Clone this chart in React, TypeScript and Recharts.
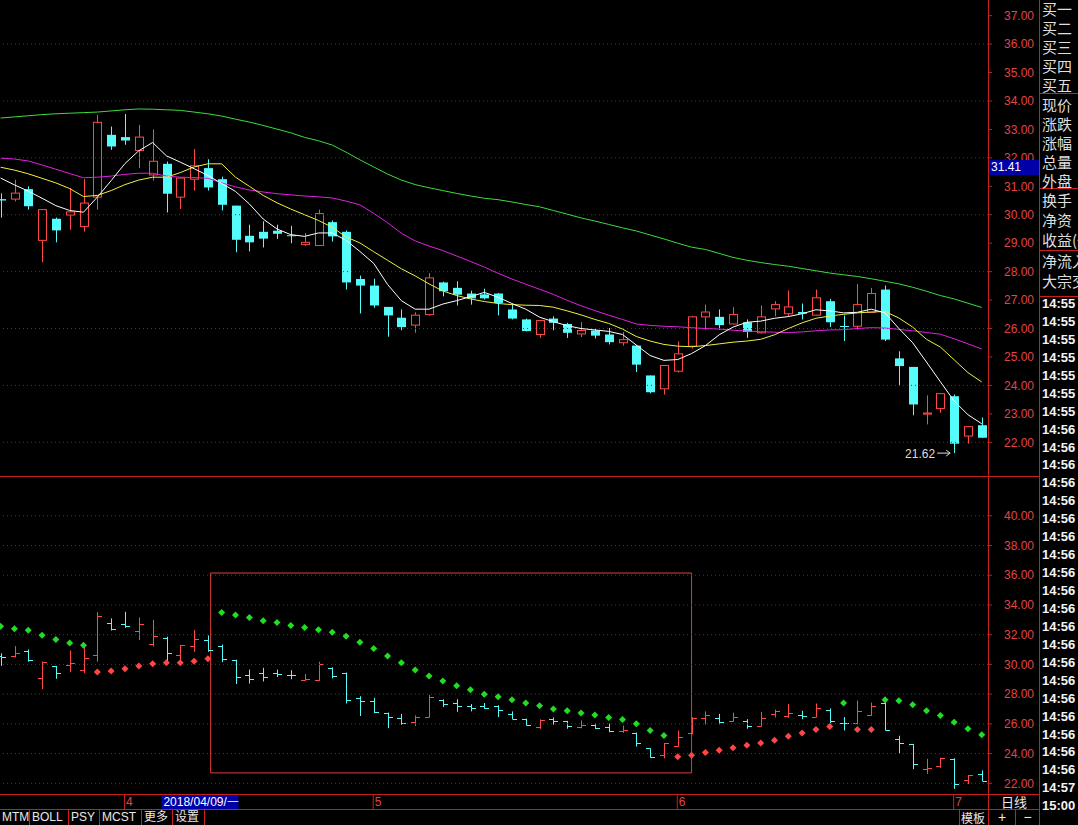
import React from 'react';
import {
  ComposedChart, Bar, Line, Scatter, XAxis, YAxis,
  ReferenceLine, ReferenceArea, ReferenceDot,
} from 'recharts';

// daily candles, 2018/03/20 .. 2018/07/04
const opens = [
  30.55, 30.55, 30.90, 29.10, 29.86, 29.99, 29.59, 30.62, 32.81, 32.73,
  32.26, 31.40, 31.79, 30.62, 31.25, 31.64, 31.25, 30.32, 29.26, 29.40,
  29.44, 29.28, 28.95, 28.92, 29.74, 29.40, 27.74, 27.51, 26.76, 26.38,
  26.12, 26.49, 27.62, 27.43, 27.23, 27.20, 27.23, 26.67, 26.32, 25.79,
  26.35, 26.16, 25.81, 25.93, 25.79, 25.50, 25.40, 24.35, 23.88, 24.50,
  25.38, 26.41, 26.41, 26.16, 26.22, 25.85, 26.69, 26.52, 26.58, 26.47,
  26.96, 26.09, 26.08, 26.57, 27.37, 24.95, 24.65, 22.99, 23.19, 23.62,
  22.22, 22.60,
];
const highs = [
  30.75, 31.23, 31.00, 30.20, 29.90, 30.94, 31.25, 33.51, 33.10, 33.54,
  33.16, 33.00, 31.87, 31.30, 32.31, 31.95, 31.34, 30.32, 29.65, 29.77,
  29.65, 29.61, 29.36, 30.18, 29.80, 29.45, 27.86, 27.75, 26.76, 26.67,
  26.57, 27.95, 27.65, 27.66, 27.33, 27.40, 27.25, 26.84, 26.35, 26.30,
  26.43, 26.20, 26.23, 26.02, 26.02, 25.88, 25.42, 24.35, 24.72, 25.55,
  26.45, 26.84, 26.67, 26.75, 26.32, 26.81, 26.96, 27.34, 26.88, 27.37,
  27.04, 26.46, 27.57, 27.43, 27.51, 25.20, 24.65, 23.65, 23.72, 23.68,
  22.56, 22.87,
];
const lows = [
  29.90, 30.47, 30.18, 28.33, 29.03, 29.47, 29.41, 30.18, 32.28, 32.46,
  31.64, 31.20, 30.08, 30.20, 30.85, 30.85, 30.15, 28.68, 28.71, 28.85,
  29.15, 29.00, 28.91, 28.90, 29.06, 27.37, 26.53, 26.73, 25.71, 25.94,
  25.85, 26.45, 27.13, 26.81, 26.84, 27.02, 26.46, 26.32, 25.90, 25.67,
  25.94, 25.67, 25.70, 25.65, 25.44, 25.40, 24.47, 23.72, 23.68, 24.45,
  25.30, 25.96, 25.96, 26.14, 25.67, 25.82, 26.43, 26.41, 26.32, 26.45,
  26.05, 25.56, 25.96, 26.55, 25.56, 23.98, 22.95, 22.63, 23.04, 21.62,
  21.95, 22.15,
];
const closes = [
  30.50, 30.76, 30.30, 30.18, 29.45, 30.10, 30.41, 33.25, 32.40, 32.61,
  32.73, 31.88, 30.74, 31.29, 31.72, 30.96, 30.35, 29.12, 29.03, 29.16,
  29.33, 29.26, 29.03, 30.04, 29.24, 27.62, 27.51, 26.81, 26.46, 26.05,
  26.47, 27.78, 27.31, 27.19, 27.06, 27.06, 26.90, 26.35, 25.91, 26.28,
  26.20, 25.85, 25.93, 25.75, 25.52, 25.61, 24.73, 23.76, 24.70, 25.11,
  26.41, 26.58, 26.12, 26.49, 25.88, 26.41, 26.84, 26.76, 26.52, 27.08,
  26.22, 26.07, 26.84, 27.23, 25.61, 24.68, 23.33, 23.03, 23.71, 21.95,
  22.55, 22.16,
];

// moving averages
const ma5 = [
  31.29, 31.05, 30.83, 30.58, 30.32, 30.15, 30.09, 30.62, 31.20, 31.80,
  32.25, 32.54, 32.07, 31.85, 31.62, 31.38, 31.10, 30.82, 30.38, 29.85,
  29.50, 29.30, 29.24, 29.36, 29.36, 29.10, 28.71, 28.29, 27.55, 26.98,
  26.68, 26.68, 26.86, 26.98, 27.12, 27.27, 27.10, 26.88, 26.68, 26.40,
  26.24, 26.10, 26.00, 25.95, 25.90, 25.79, 25.42, 25.05, 24.88, 24.91,
  25.12, 25.40, 25.78, 26.05, 26.22, 26.26, 26.36, 26.42, 26.52, 26.66,
  26.62, 26.55, 26.57, 26.68, 26.55, 26.00, 25.50, 24.82, 24.13, 23.45,
  22.97, 22.65,
];
const ma10 = [
  31.67, 31.57, 31.44, 31.28, 31.12, 30.92, 30.64, 30.68, 30.85, 31.06,
  31.22, 31.32, 31.32, 31.48, 31.68, 31.79, 31.79, 31.32, 31.00, 30.68,
  30.42, 30.20, 30.00, 29.80, 29.56, 29.22, 29.01, 28.70, 28.40, 28.10,
  27.85, 27.57, 27.32, 27.16, 27.04, 26.95, 26.88, 26.84, 26.82, 26.81,
  26.75, 26.62, 26.48, 26.32, 26.18, 25.98, 25.72, 25.56, 25.44, 25.38,
  25.36, 25.40, 25.46, 25.52, 25.56, 25.62, 25.78, 26.00, 26.20, 26.36,
  26.44, 26.50, 26.55, 26.58, 26.60, 26.37, 26.05, 25.62, 25.35, 24.90,
  24.45, 24.12,
];
const ma20 = [
  31.99, 31.96, 31.89, 31.75, 31.60, 31.45, 31.30, 31.32, 31.36, 31.42,
  31.46, 31.46, 31.36, 31.32, 31.31, 31.28, 31.12, 30.98, 30.87, 30.80,
  30.74, 30.70, 30.66, 30.63, 30.59, 30.48, 30.35, 30.05, 29.72, 29.35,
  29.08, 28.90, 28.74, 28.55, 28.36, 28.16, 27.94, 27.74, 27.56, 27.38,
  27.20, 26.99, 26.80, 26.63, 26.47, 26.32, 26.16, 26.11, 26.08, 26.06,
  26.03, 26.00, 25.98, 25.94, 25.91, 25.89, 25.87, 25.86, 25.88, 25.92,
  25.95, 25.96, 26.00, 26.03, 26.02, 25.97, 25.92, 25.86, 25.80, 25.64,
  25.46, 25.28,
];
const ma60 = [
  33.40, 33.44, 33.48, 33.52, 33.55, 33.57, 33.59, 33.61, 33.65, 33.69,
  33.72, 33.71, 33.69, 33.67, 33.61, 33.55, 33.47, 33.36, 33.26, 33.14,
  33.01, 32.88, 32.72, 32.60, 32.45, 32.20, 31.93, 31.68, 31.43, 31.22,
  31.06, 30.95, 30.85, 30.75, 30.66, 30.58, 30.53, 30.45, 30.36, 30.28,
  30.15, 30.02, 29.89, 29.78, 29.66, 29.54, 29.43, 29.29, 29.15, 29.00,
  28.86, 28.78, 28.64, 28.50, 28.40, 28.32, 28.25, 28.19, 28.11, 28.03,
  27.95, 27.89, 27.83, 27.75, 27.66, 27.57, 27.45, 27.31, 27.16, 27.04,
  26.89, 26.74,
];

// parabolic SAR (lower panel)
const sar = [
  32.56, 32.40, 32.29, 31.96, 31.67, 31.44, 31.29, 29.49, 29.56, 29.71,
  29.89, 30.04, 30.11, 30.11, 30.22, 30.38, 33.49, 33.33, 33.16, 32.93,
  32.82, 32.62, 32.49, 32.33, 32.16, 31.89, 31.49, 31.07, 30.56, 30.11,
  29.62, 29.22, 28.89, 28.56, 28.29, 28.00, 27.82, 27.62, 27.40, 27.22,
  27.00, 26.89, 26.73, 26.60, 26.42, 26.29, 26.00, 25.55, 25.22, 23.78,
  23.89, 24.07, 24.22, 24.40, 24.56, 24.71, 24.89, 25.16, 25.38, 25.62,
  25.82, 27.40, 25.62, 25.62, 27.62, 27.56, 27.29, 26.89, 26.56, 26.11,
  25.67, 25.27,
];

const priceTicks = [22, 23, 24, 25, 26, 27, 28, 29, 30, 31, 32, 33, 34, 35, 36, 37];
const priceGrid = [22, 24, 26, 28, 30, 32, 34, 36];
const sarTicks = [22, 24, 26, 28, 30, 32, 34, 36, 38, 40];
const monthTicks = [9, 27, 49, 69];
const monthLabels = ['4', '5', '6', '7'];
const cursorIndex = 12;
const cursorDate = '2018/04/09/一';
const cursorPrice = '31.41';
const lowMark = { index: 69, price: 21.62 };
const boxArea = { from: 15.2, to: 50, bottom: 22.7, top: 36.15 };

const quoteGroups = [
  ['买一', '买二', '买三', '买四', '买五'],
  ['现价', '涨跌', '涨幅', '总量', '外盘'],
  ['换手', '净资', '收益(一)'],
  ['净流入', '大宗交易'],
];
const tradeTimes = [
  '14:55', '14:55', '14:55', '14:55', '14:55', '14:55', '14:55',
  '14:56', '14:56', '14:56', '14:56', '14:56', '14:56', '14:56', '14:56', '14:56', '14:56',
  '14:56', '14:56', '14:56', '14:56', '14:56', '14:56', '14:56', '14:56', '14:56', '14:56',
  '14:57', '15:00',
];
const tabs = ['MTM', 'BOLL', 'PSY', 'MCST', '更多', '设置'];

const rows = opens.map((open, i) => ({
  i,
  open,
  high: highs[i],
  low: lows[i],
  close: closes[i],
  range: [lows[i], highs[i]],
  ma5: ma5[i],
  ma10: ma10[i],
  ma20: ma20[i],
  ma60: ma60[i],
  sar: sar[i],
}));
const sarBelow = rows.filter((r) => r.sar < r.close);
const sarAbove = rows.filter((r) => r.sar >= r.close);

const X_DOMAIN: [number, number] = [-0.043, 71.45];
const BORDER = '#c81e1e';
const GRID = '#8a1f1f';
const AXIS_TEXT = '#e04444';
const UP = '#ff4848';
const DOWN = '#54fcfc';
const NUM_FONT = 'Liberation Sans, Arial, sans-serif';
const CJK_FONT = "'Noto Sans CJK SC', sans-serif";

// maps a value inside [low, high] to a pixel, using the bar the scale produced
function pixelMap(props: any) {
  const { y, height, payload } = props;
  const top = Math.min(y, y + height);
  const bottom = Math.max(y, y + height);
  const span = payload.high - payload.low;
  return {
    top,
    bottom,
    py: (v: number) => (span > 0 ? bottom - ((v - payload.low) / span) * (bottom - top) : top),
  };
}

function Candle(props: any) {
  const { x, width, payload } = props;
  if (x == null || !payload) return null;
  const { top, bottom, py } = pixelMap(props);
  const cx = Math.round(x + width / 2);
  const lx = cx + 0.5;
  const yo = py(payload.open);
  const yc = py(payload.close);
  const bTop = Math.min(yo, yc);
  const bBot = Math.max(yo, yc);
  if (payload.close > payload.open) {
    return (
      <g>
        <line x1={lx} x2={lx} y1={top} y2={bTop} stroke={UP} />
        <line x1={lx} x2={lx} y1={bBot} y2={bottom} stroke={UP} />
        <rect x={cx - 3.5} y={bTop} width={8} height={Math.max(bBot - bTop, 1)} fill="#000" stroke={UP} />
      </g>
    );
  }
  return (
    <g>
      <line x1={lx} x2={lx} y1={top} y2={bottom} stroke={DOWN} />
      <rect x={cx - 4} y={bTop} width={9} height={Math.max(bBot - bTop, 1)} fill={DOWN} />
    </g>
  );
}

function OhlcBar(props: any) {
  const { x, width, payload } = props;
  if (x == null || !payload) return null;
  const { top, bottom, py } = pixelMap(props);
  const cx = Math.round(x + width / 2);
  const lx = cx + 0.5;
  const yo = Math.round(py(payload.open)) + 0.5;
  const yc = Math.round(py(payload.close)) + 0.5;
  const color = payload.close > payload.open ? UP : DOWN;
  return (
    <g stroke={color}>
      <line x1={lx} x2={lx} y1={top} y2={bottom} />
      <line x1={cx - 4} x2={lx} y1={yo} y2={yo} />
      <line x1={lx} x2={cx + 5} y1={yc} y2={yc} />
    </g>
  );
}

function Diamond(color: string) {
  return (props: any) => {
    const { cx, cy } = props;
    if (cx == null || cy == null) return null;
    return (
      <polygon
        points={`${cx},${cy - 3.5} ${cx + 3.5},${cy} ${cx},${cy + 3.5} ${cx - 3.5},${cy}`}
        fill={color}
      />
    );
  };
}

function LowLabel(props: any) {
  const { cx, cy } = props;
  if (cx == null || cy == null) return null;
  return (
    <g>
      <text x={cx - 19} y={cy + 5} textAnchor="end" fill="#dcdcdc" fontSize={12} fontFamily={NUM_FONT}>
        {lowMark.price.toFixed(2)}
      </text>
      <line x1={cx - 17} x2={cx - 4} y1={cy} y2={cy} stroke="#dcdcdc" />
      <polyline points={`${cx - 8},${cy - 3} ${cx - 4},${cy} ${cx - 8},${cy + 3}`} fill="none" stroke="#dcdcdc" />
    </g>
  );
}

function DateTick(props: any) {
  const { x, y, payload } = props;
  const v = payload.value;
  if (v === cursorIndex) {
    return (
      <g>
        <rect x={x - 5} y={y + 1} width={77} height={14} fill="#0000a8" />
        <text x={x - 3} y={y + 12} fill="#fff" fontSize={12} fontFamily={NUM_FONT}>{cursorDate}</text>
      </g>
    );
  }
  const k = monthTicks.indexOf(v);
  return (
    <g>
      <line x1={x - 0.5} x2={x - 0.5} y1={y} y2={y + 15} stroke={BORDER} />
      <text x={x + 1} y={y + 12} fill={AXIS_TEXT} fontSize={12} fontFamily={NUM_FONT}>{monthLabels[k]}</text>
    </g>
  );
}

const yTick = { fill: AXIS_TEXT, fontSize: 12, fontFamily: NUM_FONT };

function hLine(left: number, top: number, width: number) {
  return <div style={{ position: 'absolute', left, top, width, height: 1, background: BORDER }} />;
}
function vLine(left: number, top: number, height: number) {
  return <div style={{ position: 'absolute', left, top, width: 1, height, background: BORDER }} />;
}

const groupTops = [-1, 94.5, 190, 251];
const groupLine = [19, 19, 20, 20];
const tabWidths = [30, 39, 31, 42, 31, 32];

export default function App() {
  return (
    <div
      style={{
        position: 'absolute', left: 0, top: 0, width: 1078, height: 825,
        background: '#000', overflow: 'hidden', fontFamily: NUM_FONT,
      }}
    >
      {/* price panel */}
      <div style={{ position: 'absolute', left: 0, top: 0 }}>
        <ComposedChart width={1040} height={477} data={rows} margin={{ top: 0, right: 0, bottom: 0, left: 0 }}>
          <XAxis type="number" dataKey="i" domain={X_DOMAIN} allowDataOverflow hide />
          <YAxis
            orientation="right" width={52} domain={[20.78, 37.55]} allowDataOverflow
            ticks={priceTicks} interval={0} axisLine={false}
            tickLine={{ stroke: BORDER }} tickSize={4} tickMargin={12}
            tick={yTick} tickFormatter={(v: number) => v.toFixed(2)}
          />
          {priceGrid.map((v) => (
            <ReferenceLine key={v} y={v} stroke={GRID} strokeDasharray="1 3" />
          ))}
          <Bar dataKey="range" barSize={10} isAnimationActive={false} shape={(p: any) => <Candle {...p} />} />
          <Line dataKey="ma60" stroke="#3cdc3c" strokeWidth={1} dot={false} activeDot={false} type="linear" isAnimationActive={false} />
          <Line dataKey="ma20" stroke="#e020e0" strokeWidth={1} dot={false} activeDot={false} type="linear" isAnimationActive={false} />
          <Line dataKey="ma10" stroke="#f0f040" strokeWidth={1} dot={false} activeDot={false} type="linear" isAnimationActive={false} />
          <Line dataKey="ma5" stroke="#ffffff" strokeWidth={1} dot={false} activeDot={false} type="linear" isAnimationActive={false} />
          <ReferenceDot x={lowMark.index} y={lowMark.price} shape={(p: any) => <LowLabel {...p} />} />
        </ComposedChart>
      </div>

      {/* SAR panel with date axis */}
      <div style={{ position: 'absolute', left: 0, top: 477 }}>
        <ComposedChart width={1040} height={332} data={rows} margin={{ top: 0, right: 0, bottom: 0, left: 0 }}>
          <XAxis
            type="number" dataKey="i" domain={X_DOMAIN} allowDataOverflow height={15}
            ticks={[...monthTicks, cursorIndex]} interval={0} axisLine={false}
            tickLine={false} tickSize={0} tickMargin={0} tick={(p: any) => <DateTick {...p} />}
          />
          <YAxis
            orientation="right" width={52} domain={[21.28, 42.61]} allowDataOverflow
            ticks={sarTicks} interval={0} axisLine={false}
            tickLine={{ stroke: BORDER }} tickSize={4} tickMargin={12}
            tick={yTick} tickFormatter={(v: number) => v.toFixed(2)}
          />
          {sarTicks.map((v) => (
            <ReferenceLine key={v} y={v} stroke={GRID} strokeDasharray="1 3" />
          ))}
          <Bar dataKey="range" barSize={10} isAnimationActive={false} shape={(p: any) => <OhlcBar {...p} />} />
          <Scatter data={sarAbove} dataKey="sar" isAnimationActive={false} shape={Diamond('#22dd22')} activeShape={Diamond('#22dd22')} />
          <Scatter data={sarBelow} dataKey="sar" isAnimationActive={false} shape={Diamond('#ff4646')} activeShape={Diamond('#ff4646')} />
          <ReferenceArea
            x1={boxArea.from} x2={boxArea.to} y1={boxArea.bottom} y2={boxArea.top}
            fill="none" fillOpacity={0} stroke="#e03c3c" strokeWidth={1} ifOverflow="visible"
          />
        </ComposedChart>
      </div>

      {/* frame lines */}
      {vLine(988, 0, 825)}
      {vLine(1039, 0, 825)}
      {hLine(0, 476, 1040)}
      {hLine(0, 794, 1040)}
      {hLine(0, 809, 1040)}
      {vLine(959, 809, 16)}
      {vLine(1015, 809, 16)}
      {hLine(1040, 93, 38)}
      {hLine(1040, 188, 38)}
      {hLine(1040, 250, 38)}
      {hLine(1040, 296, 38)}

      {/* cursor price */}
      <div
        style={{
          position: 'absolute', left: 989, top: 160, width: 50, height: 15, background: '#0000a8',
          color: '#fff', fontSize: 12, lineHeight: '15px', paddingLeft: 2, boxSizing: 'border-box',
        }}
      >
        {cursorPrice}
      </div>

      {/* quote labels */}
      {quoteGroups.map((g, gi) => (
        <div
          key={gi}
          style={{
            position: 'absolute', left: 1042, top: groupTops[gi], width: 36, overflow: 'hidden',
            color: '#dedede', fontFamily: CJK_FONT, fontSize: 15, lineHeight: `${groupLine[gi]}px`,
            whiteSpace: 'nowrap',
          }}
        >
          {g.map((t, k) => <div key={k}>{t}</div>)}
        </div>
      ))}

      {/* trade times */}
      <div
        style={{
          position: 'absolute', left: 1042, top: 295, width: 36, overflow: 'hidden',
          color: '#f4f4f4', fontSize: 13, fontWeight: 'bold', lineHeight: '17.93px', whiteSpace: 'nowrap',
        }}
      >
        {tradeTimes.map((t, k) => <div key={k}>{t}</div>)}
      </div>

      {/* period cell */}
      <div
        style={{
          position: 'absolute', left: 989, top: 795, width: 50, height: 14, color: '#e8e8e8',
          fontFamily: CJK_FONT, fontSize: 13, lineHeight: '14px', textAlign: 'center',
        }}
      >
        日线
      </div>

      {/* bottom tabs */}
      <div style={{ position: 'absolute', left: 0, top: 810, height: 15, display: 'flex' }}>
        {tabs.map((t, k) => (
          <div
            key={t}
            style={{
              width: tabWidths[k], height: 15, borderRight: `1px solid ${BORDER}`, boxSizing: 'border-box',
              color: '#e8e8e8', fontFamily: `${NUM_FONT}, ${CJK_FONT}`, fontSize: 12, lineHeight: '15px',
              paddingLeft: 2, whiteSpace: 'nowrap', overflow: 'hidden',
            }}
          >
            {t}
          </div>
        ))}
      </div>
      <div
        style={{
          position: 'absolute', left: 961, top: 810, width: 27, height: 15, color: '#e8e8e8',
          fontFamily: CJK_FONT, fontSize: 12, lineHeight: '15px',
        }}
      >
        模板
      </div>
      <div style={{ position: 'absolute', left: 989, top: 809, width: 26, height: 16, color: '#e8e8e8', fontSize: 14, lineHeight: '16px', textAlign: 'center' }}>+</div>
      <div style={{ position: 'absolute', left: 1016, top: 809, width: 23, height: 16, color: '#e8e8e8', fontSize: 14, lineHeight: '16px', textAlign: 'center' }}>−</div>
    </div>
  );
}
